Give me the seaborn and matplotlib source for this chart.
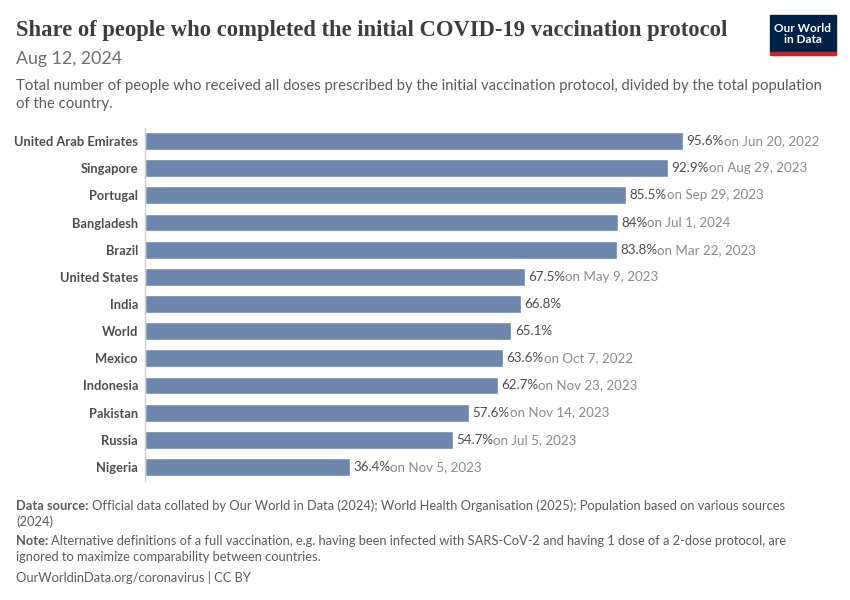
import matplotlib
matplotlib.use("Agg")
import matplotlib.pyplot as plt
import matplotlib.patches as mpatches
import seaborn as sns
import pandas as pd

countries = ["United Arab Emirates", "Singapore", "Portugal", "Bangladesh", "Brazil",
             "United States", "India", "World", "Mexico", "Indonesia", "Pakistan",
             "Russia", "Nigeria"]
shares = [95.6, 92.9, 85.5, 84.0, 83.8, 67.5, 66.8, 65.1, 63.6, 62.7, 57.6, 54.7, 36.4]
value_labels = ["95.6%", "92.9%", "85.5%", "84%", "83.8%", "67.5%", "66.8%", "65.1%",
                "63.6%", "62.7%", "57.6%", "54.7%", "36.4%"]
dates = ["on Jun 20, 2022", "on Aug 29, 2023", "on Sep 29, 2023", "on Jul 1, 2024",
         "on Mar 22, 2023", "on May 9, 2023", "", "", "on Oct 7, 2022",
         "on Nov 23, 2023", "on Nov 14, 2023", "on Jul 5, 2023", "on Nov 5, 2023"]

BAR = "#6d87ae"
DARK = "#4d4d4d"
GREY = "#5b5b5b"
LIGHT = "#8a8a8a"

sns.set_theme(style="white")
plt.rcParams["font.family"] = ["Lato", "DejaVu Sans"]

W, H = 850, 600
fig = plt.figure(figsize=(8.5, 6), dpi=100)


def fx(x):
    return x / W


def fy(y):
    return 1 - y / H


ax_top, ax_bot = 127.5, 480.5
ax = fig.add_axes([fx(145), fy(ax_bot), fx(562.8), (ax_bot - ax_top) / H])

df = pd.DataFrame({"country": countries, "share": shares})
sns.barplot(data=df, x="share", y="country", color=BAR, saturation=1,
            width=0.66, ax=ax)
ax.set_xlim(0, 100)
ax.set_xlabel("")
ax.set_ylabel("")
ax.set_xticks([])
for s in ["top", "right", "bottom"]:
    ax.spines[s].set_visible(False)
ax.spines["left"].set_color("#d0d0d0")
ax.spines["left"].set_linewidth(1)
ax.tick_params(axis="y", length=0, pad=5)
for lab in ax.get_yticklabels():
    lab.set_fontsize(9.3)
    lab.set_fontweight("bold")
    lab.set_color(DARK)

for i, (v, vl, d) in enumerate(zip(shares, value_labels, dates)):
    t1 = ax.annotate(vl, xy=(v, i), xytext=(2.5, 0), textcoords="offset points",
                     va="center", ha="left", fontsize=9.6, color=DARK)
    if d:
        ax.annotate(d, xy=(1, 0), xycoords=t1, va="bottom", ha="left",
                    fontsize=9.6, color=LIGHT)

# header
fig.text(fx(16), fy(36), "Share of people who completed the initial COVID-19 vaccination protocol",
         family=["Liberation Serif", "DejaVu Serif"], fontsize=16.3, fontweight="bold",
         color="#3d3d3d", va="baseline", ha="left")
fig.text(fx(16), fy(64), "Aug 12, 2024", fontsize=12.8, color="#6e6e6e",
         va="baseline", ha="left")
fig.text(fx(16), fy(90), "Total number of people who received all doses prescribed by the initial "
         "vaccination protocol, divided by the total population", fontsize=10.7,
         color=GREY, va="baseline", ha="left")
fig.text(fx(16), fy(108), "of the country.", fontsize=10.7, color=GREY,
         va="baseline", ha="left")

# logo
fig.patches.append(mpatches.Rectangle((fx(770), fy(52)), fx(66), 37 / H,
                                      transform=fig.transFigure, color="#002147"))
fig.patches.append(mpatches.Rectangle((fx(770), fy(54.5)), fx(66), 2.5 / H,
                                      transform=fig.transFigure, color="#ce261e"))
fig.text(fx(803), fy(34), "Our World\nin Data", fontsize=8.5, fontweight="bold",
         color="white", ha="center", va="center", linespacing=1.0)

# footer
fig.canvas.draw()
renderer = fig.canvas.get_renderer()
FOOT = 9.3


def footer_line(y, bold, rest):
    t = fig.text(fx(16), fy(y), bold, fontsize=FOOT, fontweight="bold", color=GREY,
                 va="baseline", ha="left")
    bb = t.get_window_extent(renderer=renderer)
    fig.text(fx(bb.x1 + 3), fy(y), rest, fontsize=FOOT, color=GREY,
             va="baseline", ha="left")


footer_line(510, "Data source:", "Official data collated by Our World in Data (2024); World Health "
            "Organisation (2025); Population based on various sources")
fig.text(fx(16), fy(526), "(2024)", fontsize=FOOT, color=GREY, va="baseline", ha="left")
footer_line(545, "Note:", "Alternative definitions of a full vaccination, e.g. having been infected "
            "with SARS-CoV-2 and having 1 dose of a 2-dose protocol, are")
fig.text(fx(16), fy(561), "ignored to maximize comparability between countries.", fontsize=FOOT,
         color=GREY, va="baseline", ha="left")
fig.text(fx(16), fy(582), "OurWorldinData.org/coronavirus | CC BY", fontsize=FOOT,
         color=GREY, va="baseline", ha="left")

fig.savefig("out.png", dpi=100)
